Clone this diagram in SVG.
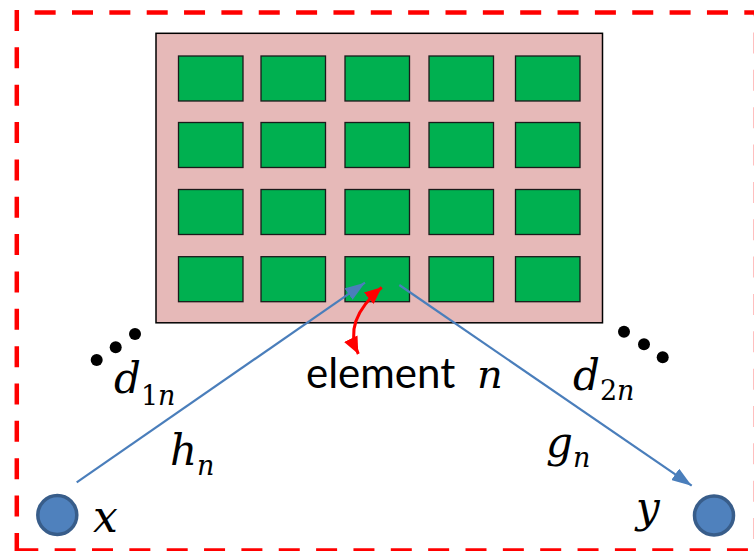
<svg xmlns="http://www.w3.org/2000/svg" width="754" height="551" viewBox="0 0 754 551">
<style>
.border{stroke:#FF0000;stroke-width:4.5;fill:none;stroke-dasharray:21 16.35}
.panel{fill:#E6B9B8;stroke:#000;stroke-width:1.5}
.cell{fill:#00B050;stroke:#1a1a1a;stroke-width:1.3}
.link{stroke:#4A7EBB;stroke-width:2.2;fill:none}
.node{fill:#4F81BD;stroke:#385D8A;stroke-width:3.5}
.math{font-family:"DejaVu Serif","Liberation Serif",serif;font-style:italic;fill:#000}
.up{font-style:normal}
.lbl{font-family:Lato,"Open Sans","Liberation Sans",sans-serif;fill:#000}
.dot{fill:#000}
</style>
<defs>
<marker id="blueHead" markerUnits="userSpaceOnUse" viewBox="0 0 20 14" refX="20" refY="7" markerWidth="20" markerHeight="14" orient="auto">
<path d="M0,0 L20,7 L0,14 Z" fill="#4A7EBB"/>
</marker>
<marker id="redHead" markerUnits="userSpaceOnUse" viewBox="0 0 17 15" refX="17" refY="7.5" markerWidth="17" markerHeight="15" orient="auto-start-reverse">
<path d="M0,0 L17,7.5 L0,15 Z" fill="#FF0000"/>
</marker>
</defs>
<g id="border">
<line class="border" x1="16.8" y1="12.5" x2="760" y2="12.5" style="stroke-dashoffset:19.5"/>
<line class="border" x1="16.8" y1="10" x2="16.8" y2="552"/>
<line class="border" x1="16.8" y1="550.5" x2="760" y2="550.5" style="stroke-dashoffset:-0.5"/>
<line class="border" x1="756" y1="12.5" x2="756" y2="552" style="stroke-dashoffset:-20"/>
</g>
<g id="surface">
<rect class="panel" x="156" y="33.3" width="446.5" height="289.5"/>
<rect class="cell" x="178.5" y="56" width="64.5" height="45"/>
<rect class="cell" x="261" y="56" width="64.5" height="45"/>
<rect class="cell" x="345" y="56" width="64.5" height="45"/>
<rect class="cell" x="429" y="56" width="64.5" height="45"/>
<rect class="cell" x="515.5" y="56" width="64.5" height="45"/>
<rect class="cell" x="178.5" y="122.5" width="64.5" height="45"/>
<rect class="cell" x="261" y="122.5" width="64.5" height="45"/>
<rect class="cell" x="345" y="122.5" width="64.5" height="45"/>
<rect class="cell" x="429" y="122.5" width="64.5" height="45"/>
<rect class="cell" x="515.5" y="122.5" width="64.5" height="45"/>
<rect class="cell" x="178.5" y="189.5" width="64.5" height="45"/>
<rect class="cell" x="261" y="189.5" width="64.5" height="45"/>
<rect class="cell" x="345" y="189.5" width="64.5" height="45"/>
<rect class="cell" x="429" y="189.5" width="64.5" height="45"/>
<rect class="cell" x="515.5" y="189.5" width="64.5" height="45"/>
<rect class="cell" x="178.5" y="256.7" width="64.5" height="45"/>
<rect class="cell" x="261" y="256.7" width="64.5" height="45"/>
<rect class="cell" x="345" y="256.7" width="64.5" height="45"/>
<rect class="cell" x="429" y="256.7" width="64.5" height="45"/>
<rect class="cell" x="515.5" y="256.7" width="64.5" height="45"/>
</g>
<g id="node-x">
<circle class="node" cx="57.3" cy="515" r="19.5"/>
<text class="math" x="93" y="532" font-size="44">x</text>
</g>
<g id="node-y">
<circle class="node" cx="714" cy="515.5" r="19.5"/>
<text class="math" x="636" y="522" font-size="42">y</text>
</g>
<g id="connectors">
<line class="link" x1="76.7" y1="482.3" x2="365" y2="282.7" marker-end="url(#blueHead)"/>
<line class="link" x1="399.3" y1="285" x2="691.7" y2="485.7" marker-end="url(#blueHead)"/>
<path d="M381.7,287.3 Q342,321 358.3,354" fill="none" stroke="#FF0000" stroke-width="3" marker-start="url(#redHead)" marker-end="url(#redHead)"/>
</g>
<g id="labels">
<text class="lbl" x="306" y="388" font-size="42">element</text>
<text class="math" x="477" y="388" font-size="40">n</text>
<text class="math" x="114" y="393" font-size="42">d<tspan class="up" font-size="27" dy="12">1</tspan><tspan font-size="27">n</tspan></text>
<text class="math" x="170" y="465" font-size="42">h<tspan font-size="27" dy="10">n</tspan></text>
<text class="math" x="573" y="390" font-size="42">d<tspan class="up" font-size="27" dy="10">2</tspan><tspan font-size="27">n</tspan></text>
<text class="math" x="546" y="457" font-size="42">g<tspan font-size="27" dy="10">n</tspan></text>
</g>
<g id="dots">
<circle class="dot" cx="96.7" cy="360" r="6"/>
<circle class="dot" cx="115.7" cy="347.3" r="6"/>
<circle class="dot" cx="135" cy="334" r="6"/>
<circle class="dot" cx="624" cy="331.7" r="6"/>
<circle class="dot" cx="644" cy="344.3" r="6"/>
<circle class="dot" cx="662.7" cy="357.3" r="6"/>
</g>
</svg>
